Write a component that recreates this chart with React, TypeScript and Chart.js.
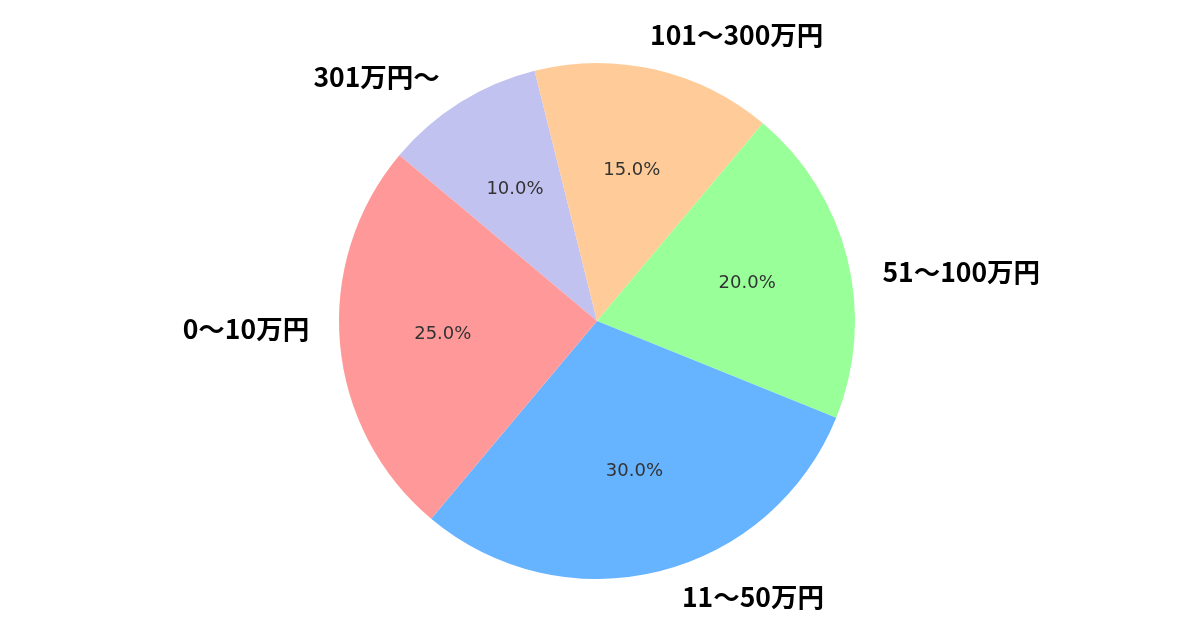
import React, { useEffect, useRef } from "react";
import { Chart, registerables } from "chart.js";

Chart.register(...registerables);

// Data (matplotlib-style order: counter-clockwise from 140°)
const categories = ["0〜10万円", "11〜50万円", "51〜100万円", "101〜300万円", "301万円〜"];
const shares = [25, 30, 20, 15, 10];
const sliceColors = ["#ff9999", "#66b3ff", "#99ff99", "#ffcc99", "#c2c2f0"];

// Chart.js draws clockwise, so reverse to reproduce the counter-clockwise layout
const cwLabels = [...categories].reverse();
const cwValues = [...shares].reverse();
const cwColors = [...sliceColors].reverse();

// small per-label text nudges (in clockwise order), pixels
const labelNudges: [number, number][] = [
  [-4, 1],   // 301万円〜
  [-12, -5], // 101〜300万円
  [5, 21],   // 51〜100万円
  [15, -4],  // 11〜50万円
  [0, -17],  // 0〜10万円
];

const pieLabelsPlugin = {
  id: "pieLabels",
  afterDatasetsDraw(chart: any) {
    const ctx = chart.ctx as CanvasRenderingContext2D;
    const meta = chart.getDatasetMeta(0);
    const data = chart.data.datasets[0].data as number[];
    const total = data.reduce((a, b) => a + b, 0);
    meta.data.forEach((arc: any, i: number) => {
      const { x, y, startAngle, endAngle, outerRadius } = arc.getProps(
        ["x", "y", "startAngle", "endAngle", "outerRadius"],
        true
      );
      const mid = (startAngle + endAngle) / 2;
      const c = Math.cos(mid);
      const s = Math.sin(mid);
      // percentage text
      ctx.save();
      ctx.font = '18px "DejaVu Sans"';
      ctx.fillStyle = "#333333";
      ctx.textAlign = "center";
      ctx.textBaseline = "middle";
      const pct = ((data[i] / total) * 100).toFixed(1) + "%";
      ctx.fillText(pct, x + c * outerRadius * 0.6, y + s * outerRadius * 0.6);
      // category text
      ctx.font = 'bold 26.5px "Noto Sans CJK JP"';
      ctx.fillStyle = "#000000";
      ctx.textAlign = c > 0 ? "left" : "right";
      const nudge = labelNudges[i] || [0, 0];
      const lx = x + c * outerRadius * 1.12 + nudge[0];
      const ly = y + s * outerRadius * 1.12 + nudge[1];
      ctx.fillText(chart.data.labels[i], lx, ly);
      ctx.restore();
    });
  },
};

export default function App() {
  const ref = useRef<HTMLCanvasElement | null>(null);

  useEffect(() => {
    document.body.style.margin = "0";
    document.body.style.background = "#ffffff";
    const canvas = ref.current;
    if (!canvas) return;
    const chart = new Chart(canvas, {
      type: "pie",
      data: {
        labels: cwLabels,
        datasets: [
          {
            data: cwValues,
            backgroundColor: cwColors,
            borderWidth: 0,
            hoverOffset: 0,
          },
        ],
      },
      options: {
        responsive: false,
        animation: false,
        rotation: -50,
        layout: { padding: { top: 63, bottom: 51, left: 0, right: 6 } },
        plugins: {
          legend: { display: false },
          tooltip: { enabled: false },
        },
        events: [],
      },
      plugins: [pieLabelsPlugin],
    });
    return () => chart.destroy();
  }, []);

  return (
    <div style={{ width: 1200, height: 630, background: "#fff" }}>
      <canvas ref={ref} width={1200} height={630} style={{ display: "block", width: 1200, height: 630 }} />
    </div>
  );
}
